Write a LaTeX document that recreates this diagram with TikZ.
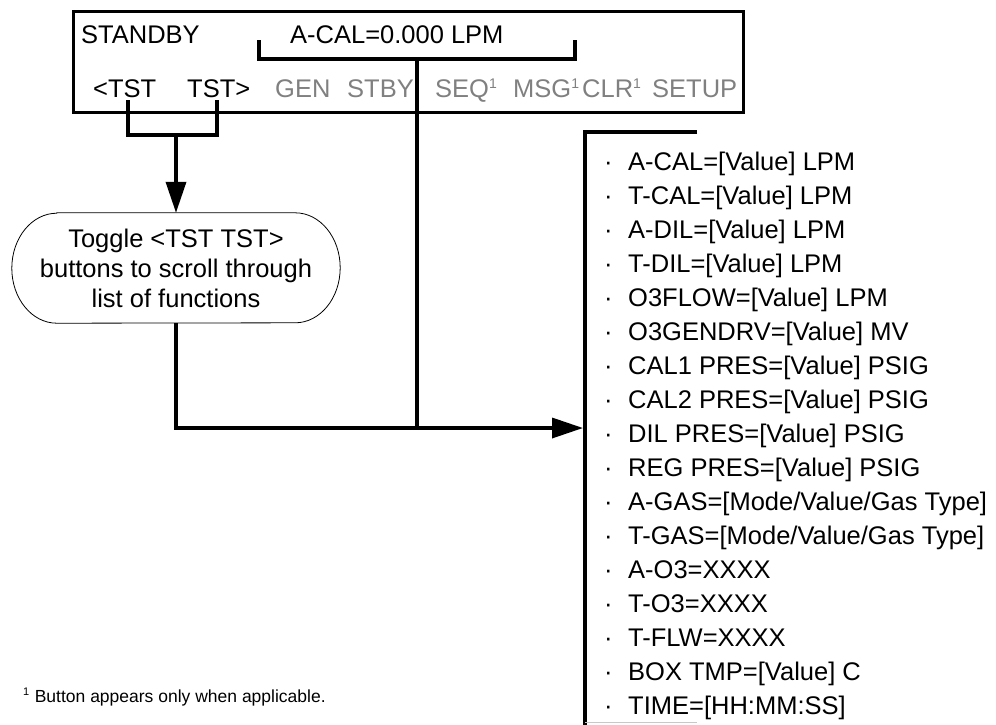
\documentclass[tikz,border=0pt]{standalone}
\usepackage{fontspec}
\setmainfont{Liberation Sans}
\usetikzlibrary{arrows.meta}
\definecolor{btngray}{RGB}{128,128,128}
\definecolor{faintgray}{RGB}{200,200,200}
\newcommand\supn[1]{\raisebox{8.3pt}{\fontsize{14}{14}\selectfont #1}}
\begin{document}
\begin{tikzpicture}[x=1pt,y=-1pt,
  txt/.style={anchor=base west,inner sep=0pt,font=\fontsize{25.5}{30}\selectfont},
  btn/.style={txt,text=btngray},
  frame/.style={draw,line width=3pt},
  conn/.style={line width=3.5pt},
  arr/.style={conn,-{Triangle[length=31pt,width=20pt]}},
  pilltext/.style={minimum width=328pt,minimum height=110pt,inner sep=0pt,align=center,font=\fontsize{25.5}{30}\selectfont},
  pillline/.style={line width=0.8pt},
  listline/.style={line width=4pt}]
\useasboundingbox (0,0) rectangle (996,724);

% display box
\node[frame,minimum width=670pt,minimum height=101pt,inner sep=0pt] (disp) at (408,61.5) {};
\node[txt] (standby) at (81,43) {STANDBY};
\node[txt] (acal) at (290,43) {A-CAL=0.000 LPM};
\node[txt] (tstl) at (93,97) {<TST};
\node[txt] (tstr) at (187,97) {TST>};
\node[btn] (gen) at (275,97) {GEN};
\node[btn] (stby) at (347,97) {STBY};
\node[btn] (seq) at (435,97) {SEQ\supn{1}};
\node[btn] (msg) at (513,97) {MSG\supn{1}};
\node[btn] (clr) at (582,97) {CLR\supn{1}};
\node[btn] (setup) at (652,97) {SETUP};

% bracket under A-CAL and its line
\coordinate (acalL) at (259,40);
\coordinate (acalR) at (575,40);
\coordinate (acalC) at (417,59);
\draw[conn] (acalL) -- (259,59) -- (575,59) -- (acalR);

% TST bracket
\coordinate (tstLtop) at (128,100);
\coordinate (tstRtop) at (217,100);
\draw[conn] (tstLtop) -- (128,135) -- (217,135) -- (tstRtop);

% pill
\node[pilltext] (pill) at (176,268) {Toggle <TST TST>\\buttons to scroll through\\list of functions};
\draw[pillline] ([xshift=45pt]pill.north west) -- ([xshift=-45pt]pill.north east)
  arc[start angle=90,end angle=-90,x radius=45pt,y radius=55pt]
  -- ([xshift=45pt]pill.south west)
  arc[start angle=270,end angle=90,x radius=45pt,y radius=55pt] -- cycle;
\coordinate (tstC) at (pill.north |- 0,135);
\draw[arr] (tstC) -- (pill.north);

% list bracket
\coordinate (listtop) at (585,132);
\coordinate (listend) at (697,132);
\coordinate (listbot) at (585,726);
\draw[listline,line cap=butt] (listend) -- (listtop) -- (listbot);
\draw[faintgray,line width=1pt] (585,722.5) -- (697,722.5);
\coordinate (listin) at (583,428);

% connectors
\coordinate (junc) at (417,428);
\draw[conn] (acalC) -- (junc);
\draw[arr] (pill.south) |- (listin);

% list items
\foreach \t [count=\i from 0] in {{A-CAL=[Value] LPM},{T-CAL=[Value] LPM},{A-DIL=[Value] LPM},{T-DIL=[Value] LPM},{O3FLOW=[Value] LPM},{O3GENDRV=[Value] MV},{CAL1 PRES=[Value] PSIG},{CAL2 PRES=[Value] PSIG},{DIL PRES=[Value] PSIG},{REG PRES=[Value] PSIG},{A-GAS=[Mode/Value/Gas Type]},{T-GAS=[Mode/Value/Gas Type]},{A-O3=XXXX},{T-O3=XXXX},{T-FLW=XXXX},{BOX TMP=[Value] C},{TIME=[HH:MM:SS]}}{
  \node[txt] (bul\i) at (604,{170+34*\i}) {·};
  \node[txt] (item\i) at (628,{170+34*\i}) {\t};
}

% footnote
\node[anchor=base west,inner sep=0pt,font=\fontsize{17.5}{20}\selectfont] (fn) at (23,702) {\raisebox{7pt}{\fontsize{11}{11}\selectfont 1}\hspace{5.5pt}Button appears only when applicable.};
\end{tikzpicture}
\end{document}
